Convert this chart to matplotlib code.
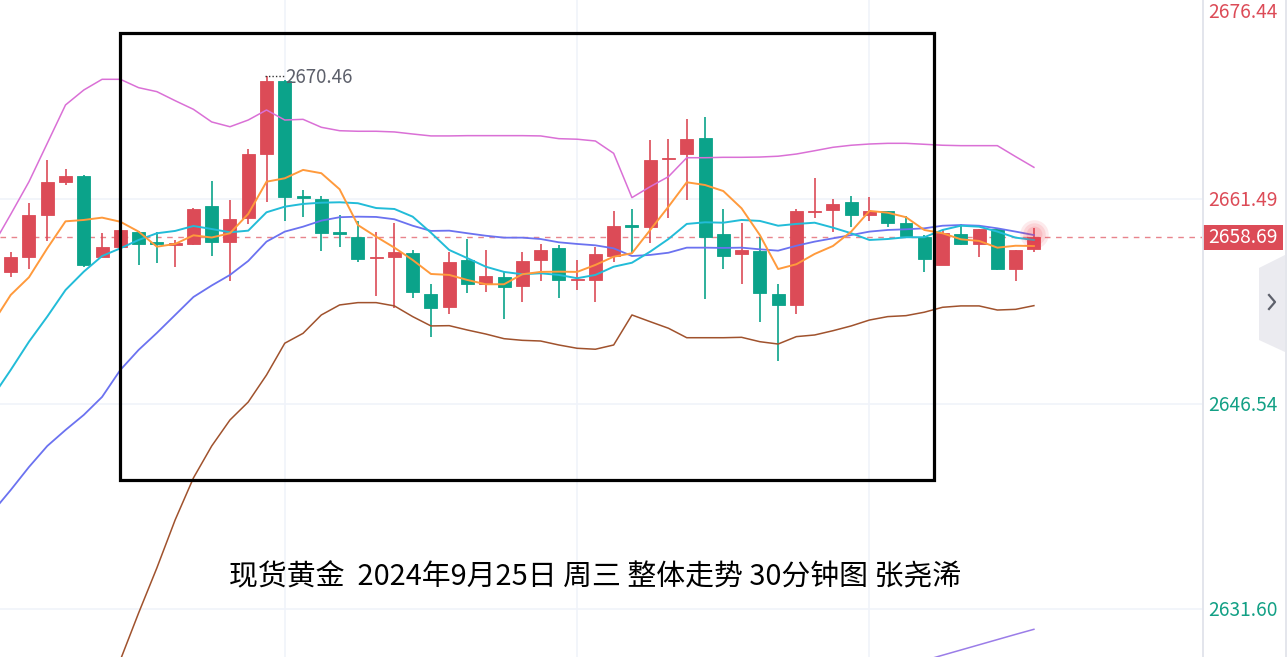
import matplotlib
matplotlib.use('Agg')
import matplotlib.pyplot as plt
from matplotlib.patches import Rectangle, Polygon
import matplotlib.transforms as mtransforms
import numpy as np

plt.rcParams['font.family'] = ['Noto Sans CJK SC', 'DejaVu Sans']

# ---------------- data ----------------
opens = [2656.14, 2657.24, 2660.30, 2662.71, 2663.15, 2657.24, 2657.99, 2659.08, 2658.26, 2658.16,
         2658.23, 2660.98, 2658.35, 2660.10, 2664.79, 2670.12, 2661.60, 2661.47, 2658.97, 2658.74,
         2657.15, 2657.24, 2657.55, 2654.58, 2653.63, 2657.02, 2655.29, 2655.80, 2655.17, 2657.02,
         2657.89, 2655.56, 2655.60, 2657.35, 2659.50, 2659.45, 2664.39, 2664.79, 2665.96, 2658.96,
         2657.48, 2657.68, 2654.58, 2653.76, 2660.52, 2660.67, 2661.27, 2660.32, 2660.62, 2659.76,
         2658.72, 2656.70, 2658.96, 2658.23, 2659.28, 2656.38, 2657.82]
highs = [2657.65, 2661.18, 2664.33, 2663.68, 2663.22, 2658.99, 2659.23, 2659.16, 2659.06, 2658.50,
         2660.86, 2662.80, 2661.40, 2665.12, 2670.46, 2670.20, 2662.15, 2661.71, 2660.30, 2659.86,
         2659.06, 2659.74, 2657.77, 2655.27, 2657.65, 2658.55, 2657.77, 2656.14, 2657.65, 2658.23,
         2658.11, 2657.02, 2657.97, 2660.62, 2660.74, 2665.77, 2665.87, 2667.30, 2667.49, 2660.74,
         2659.76, 2658.74, 2655.27, 2660.74, 2663.04, 2661.49, 2661.71, 2661.64, 2660.62, 2660.27,
         2658.89, 2659.23, 2659.65, 2659.28, 2659.35, 2657.75, 2659.40]
lows = [2655.82, 2656.36, 2658.45, 2662.49, 2656.51, 2657.24, 2657.95, 2656.70, 2656.80, 2656.55,
        2658.11, 2657.35, 2655.51, 2659.65, 2661.29, 2659.86, 2660.20, 2657.68, 2658.01, 2656.92,
        2654.42, 2653.56, 2654.29, 2651.45, 2653.10, 2654.61, 2654.73, 2652.76, 2653.96, 2655.51,
        2654.29, 2654.83, 2653.96, 2656.92, 2657.53, 2658.30, 2660.10, 2661.40, 2654.17, 2656.36,
        2655.27, 2652.54, 2649.70, 2653.08, 2660.10, 2659.10, 2659.47, 2659.89, 2659.47, 2658.81,
        2656.14, 2656.70, 2658.13, 2657.24, 2656.29, 2655.49, 2657.65]
closes = [2657.24, 2660.30, 2662.71, 2663.15, 2656.70, 2657.99, 2659.21, 2658.23, 2658.23, 2658.20,
          2660.74, 2658.35, 2660.05, 2664.77, 2670.12, 2661.64, 2661.58, 2658.99, 2658.96, 2657.14,
          2657.17, 2657.65, 2654.73, 2653.54, 2656.90, 2655.29, 2655.90, 2655.07, 2656.99, 2657.75,
          2655.60, 2655.60, 2657.46, 2659.52, 2659.47, 2664.33, 2664.41, 2665.87, 2658.70, 2657.35,
          2657.77, 2654.63, 2653.76, 2660.62, 2660.54, 2661.15, 2660.32, 2660.62, 2659.76, 2658.81,
          2657.14, 2658.99, 2658.23, 2659.28, 2656.38, 2657.75, 2658.69]

# indicator lines: first value belongs to the bar just left of the visible window
ma_orange = [2652.41,
             2654.49, 2655.78, 2657.89, 2659.86, 2659.96, 2660.13, 2659.83, 2659.11, 2658.01, 2658.21,
             2658.84, 2658.68, 2658.99, 2660.40, 2662.75, 2663.00, 2663.61, 2663.37, 2662.20, 2659.59,
             2658.74, 2657.94, 2657.04, 2656.02, 2655.95, 2655.58, 2655.27, 2655.27, 2656.00, 2656.17,
             2656.19, 2656.17, 2656.68, 2657.28, 2657.53, 2659.23, 2660.93, 2662.71, 2662.51, 2662.07,
             2660.81, 2658.86, 2656.38, 2656.73, 2657.48, 2658.06, 2659.11, 2660.62, 2660.49, 2660.16,
             2659.23, 2658.99, 2658.55, 2658.43, 2657.94, 2658.08, 2658.06]
ma_cyan = [2647.05,
           2649.02, 2651.08, 2652.91, 2654.85, 2656.19, 2657.33, 2657.89, 2658.50, 2658.99, 2659.16,
           2659.52, 2659.30, 2659.06, 2659.18, 2660.52, 2660.93, 2661.13, 2661.22, 2661.25, 2661.18,
           2660.83, 2660.76, 2660.20, 2659.03, 2657.77, 2657.17, 2656.55, 2656.17, 2656.00, 2656.07,
           2655.95, 2655.71, 2655.95, 2656.55, 2656.84, 2657.65, 2658.57, 2659.67, 2659.79, 2659.76,
           2659.96, 2659.89, 2659.54, 2659.67, 2659.76, 2659.40, 2658.99, 2658.50, 2658.57, 2658.70,
           2658.70, 2659.23, 2659.54, 2659.47, 2659.11, 2658.67, 2658.50]
boll_mid = [2638.66,
            2640.26, 2641.94, 2643.47, 2644.64, 2645.74, 2647.05, 2649.02, 2650.48, 2651.72, 2653.03,
            2654.34, 2655.18, 2655.95, 2656.97, 2658.38, 2659.11, 2659.47, 2659.91, 2660.16, 2660.20,
            2660.18, 2660.01, 2659.54, 2659.16, 2659.18, 2658.99, 2658.81, 2658.67, 2658.67, 2658.57,
            2658.33, 2658.21, 2658.11, 2657.89, 2657.33, 2657.41, 2657.57, 2657.94, 2657.94, 2657.92,
            2657.94, 2657.82, 2657.72, 2658.08, 2658.38, 2658.62, 2658.86, 2659.11, 2659.23, 2659.28,
            2659.35, 2659.54, 2659.59, 2659.54, 2659.35, 2659.11, 2658.86]
boll_upper = [2658.05,
              2660.37, 2662.75, 2665.55, 2668.35, 2669.44, 2670.22, 2670.22, 2669.61, 2669.32, 2668.66,
              2668.03, 2667.11, 2666.76, 2667.25, 2667.98, 2667.25, 2667.30, 2666.72, 2666.47, 2666.43,
              2666.43, 2666.38, 2666.23, 2666.09, 2666.09, 2666.11, 2666.11, 2666.11, 2666.11, 2666.09,
              2665.89, 2665.85, 2665.72, 2664.82, 2661.59, 2662.39, 2663.12, 2664.50, 2664.50, 2664.53,
              2664.53, 2664.55, 2664.61, 2664.77, 2665.01, 2665.26, 2665.41, 2665.50, 2665.55, 2665.55,
              2665.48, 2665.41, 2665.38, 2665.38, 2665.38, 2664.58, 2663.80]
boll_lower = [2619.27,
              2620.13, 2621.15, 2621.37, 2620.94, 2622.03, 2623.85, 2627.86, 2631.29, 2634.58, 2638.08,
              2641.14, 2643.47, 2645.37, 2646.68, 2648.65, 2650.97, 2651.69, 2653.03, 2653.76, 2653.93,
              2653.93, 2653.69, 2652.91, 2652.23, 2652.25, 2651.93, 2651.64, 2651.30, 2651.18, 2651.13,
              2650.84, 2650.60, 2650.53, 2650.84, 2653.03, 2652.54, 2652.06, 2651.37, 2651.37, 2651.37,
              2651.40, 2651.08, 2650.91, 2651.45, 2651.57, 2651.88, 2652.23, 2652.66, 2652.91, 2652.98,
              2653.23, 2653.59, 2653.69, 2653.69, 2653.39, 2653.44, 2653.71]
ma_long = [np.nan] * 50 + [2627.45, 2627.83, 2628.21, 2628.59, 2628.97, 2629.35, 2629.73, 2630.10]

axis_ticks = [2676.44, 2661.49, 2646.54, 2631.60]
last_price = 2658.69
peak_price = 2670.46
title = "现货黄金  2024年9月25日 周三 整体走势 30分钟图 张尧浠"

# ---------------- layout ----------------
W, H = 1287, 657
fig = plt.figure(figsize=(W / 100, H / 100), dpi=100)
fig.patch.set_facecolor('white')
ax = fig.add_axes([0, 0, 1202 / W, 1])
ymin, ymax = 2628.08, 2676.005
ax.set_ylim(ymin, ymax)
ax.set_xlim(-0.586, 65.2)
ax.axis('off')

UP = '#dc4b57'
DOWN = '#0ba38a'
grid_c = '#f0f3fa'

for t in axis_ticks:
    ax.axhline(t, color=grid_c, lw=1.2, zorder=0)
for gx in (15, 31, 47):
    ax.axvline(gx, color=grid_c, lw=1.2, zorder=0)

n = len(opens)
for i in range(n):
    o, h, l, c = opens[i], highs[i], lows[i], closes[i]
    col = UP if c >= o else DOWN
    ax.vlines(i, l, h, color=col, lw=1.2, zorder=3)
    bot = min(o, c)
    ht = max(abs(c - o), 0.1)
    ax.bar(i, ht, bottom=bot, width=0.71, color=col, edgecolor=col, linewidth=0.6, zorder=3)

ax.axhline(last_price, color='#e8848c', lw=1.0, ls=(0, (4, 4)), zorder=2)

lx = np.arange(-1, n)
ax.plot(lx, boll_upper, color='#da70d6', lw=1.1, zorder=4)
ax.plot(lx, boll_lower, color='#a0522d', lw=1.1, zorder=4)
ax.plot(lx, boll_mid, color='#6b72f0', lw=1.3, zorder=4)
ax.plot(lx, ma_cyan, color='#22bcd8', lw=1.4, zorder=4)
ax.plot(lx, ma_orange, color='#ff9a3c', lw=1.4, zorder=4)
ax.plot(lx, ma_long, color='#9b7de8', lw=1.1, zorder=4)

# glow on last candle
for s, a in ((420, 0.10), (260, 0.12), (130, 0.14)):
    ax.scatter([n - 1], [2658.9], s=s, color='#f23645', alpha=a, lw=0, zorder=5)

# peak annotation
ax.plot([13.9, 14.95], [peak_price, peak_price], ls=(0, (1, 1.5)), color='#333333', lw=1.0, zorder=5)
ax.text(15.02, 2670.32, f'{peak_price:.2f}', color='#5d606b', fontsize=13.5,
        va='center', ha='left', zorder=6)

# black frame
ax.add_patch(Rectangle((5.98, 2640.99), 50.54 - 5.98, 2673.60 - 2640.99, fill=False,
                       ec='black', lw=2.3, zorder=6))

# title
fig.text(595 / W, 1 - 577 / H, title, ha='center', va='center', fontsize=20.8, color='black')

# ---------------- right price axis ----------------
ax2 = fig.add_axes([1202 / W, 0, 85 / W, 1])
ax2.set_xlim(0, 85)
ax2.set_ylim(ymin, ymax)
ax2.axis('off')
ax2.axvline(0.6, color='#e0e3eb', lw=1.3)
ax2.axvspan(83, 85, color='#e4e6ec', lw=0)
FS = 13.8
for t in axis_ticks:
    col = UP if t > last_price else '#12a085'
    if t > ymax:
        tr = mtransforms.blended_transform_factory(ax2.transData, ax2.transAxes)
        ax2.text(6, 1 - 2 / H, f'{t:.2f}', color=col, fontsize=FS, va='top', ha='left',
                 transform=tr)
    else:
        ax2.text(6, t - 0.12, f'{t:.2f}', color=col, fontsize=FS, va='center', ha='left')
ax2.add_patch(Rectangle((0.6, last_price - 0.91), 80.5, 1.82, fc=UP, ec='none'))
ax2.text(6, last_price, f'{last_price:.2f}', color='white', fontsize=FS, va='center', ha='left')

trp = mtransforms.blended_transform_factory(ax2.transData, ax2.transAxes)
ax2.add_patch(Polygon([(57, 1 - 268 / H), (83, 1 - 255 / H), (83, 1 - 352 / H), (57, 1 - 340 / H)],
                      closed=True, fc='#ebebf0', ec='none', transform=trp))
ax2.plot([67, 73, 67], [1 - 295 / H, 1 - 302 / H, 1 - 309 / H], color='#5d606b', lw=1.6,
         transform=trp)

fig.savefig('out.png', dpi=100, facecolor='white')
